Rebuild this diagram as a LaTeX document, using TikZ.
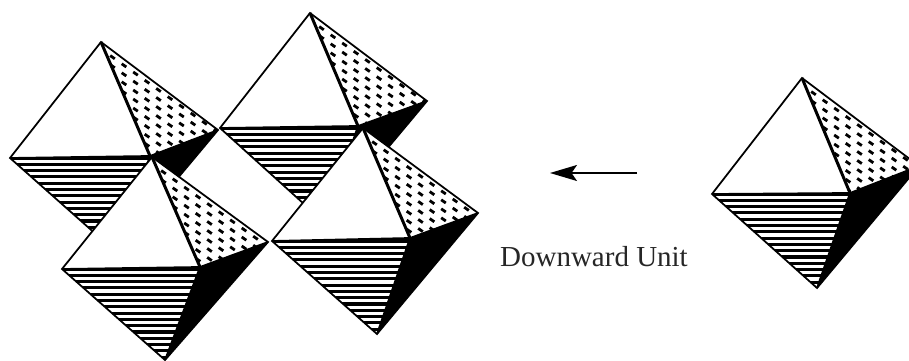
\documentclass[tikz,border=0pt]{standalone}
\usepackage{fontspec}
\setmainfont{Liberation Serif}
\usetikzlibrary{arrows.meta, calc}
\tikzset{
    edgeline/.style={draw=black, line width=1pt, line join=miter},
    heavyline/.style={draw=black, line width=1.7pt},
    stripeline/.style={draw=black, line width=1.75pt},
    dashmark/.style={draw=black, line width=1.6pt},
    unitarrow/.style={-{Stealth[length=5.4mm, width=3.2mm, inset=1.1mm]}, draw=black, line width=1.1pt},
    unitlabel/.style={font=\fontsize{16.5}{20}\selectfont, text=black!85}
}
\newcommand{\octahedron}[6]{
    \coordinate (#1t) at (#2);
    \coordinate (#1l) at (#3);
    \coordinate (#1c) at (#4);
    \coordinate (#1r) at (#5);
    \coordinate (#1b) at (#6);
    \fill[white] (#1t) -- (#1r) -- (#1b) -- (#1l) -- cycle;
    \fill[black] (#1c) -- (#1r) -- (#1b) -- cycle;
    % striped face
    \begin{scope}
        \clip (#1l) -- (#1c) -- (#1b) -- cycle;
        \foreach \k in {0,...,16}
            \draw[stripeline] ($(#1l)+(0,\k*6.3)$) -- ++(160,0);
    \end{scope}
    % dashed face
    \begin{scope}
        \clip (#1t) -- (#1r) -- (#1c) -- cycle;
        \foreach \i in {0,...,12}
            \foreach \j in {-12,...,14}
                \draw[dashmark] ($(#1t)+\i*(11.5,8.2)+\j*(0,9)+(-2.3,-3.6)$) -- ++(4.6,3.2);
    \end{scope}
    \draw[edgeline] (#1l) -- (#1t) -- (#1r) -- (#1b) -- cycle;
    \draw[edgeline] (#1l) -- (#1c) -- (#1r);
    \draw[edgeline] (#1c) -- (#1b);
    \draw[heavyline] (#1t) -- (#1c);
}
\begin{document}
\begin{tikzpicture}[x=0.02cm, y=-0.02cm]
    \useasboundingbox (0,0) rectangle (909,361);
    \clip (0,0) rectangle (909,361);
    \octahedron{one}{101,42}{10,158}{150,156}{218,130}{116,252}
    \octahedron{two}{310,13}{220,128}{358,126}{427,101}{325,223}
    \octahedron{three}{152,157}{62,269}{200,267}{268,242}{165,360}
    \octahedron{four}{363,128}{272,241}{410,238}{478,213}{377,334}
    \octahedron{single}{802,78}{712,194}{850,193}{919,166}{817,288}
    \coordinate (arrowstart) at (637,173);
    \coordinate (arrowend) at (550,173);
    \draw[unitarrow] (arrowstart) -- (arrowend);
    \node[unitlabel] (unitname) at (594,257) {Downward Unit};
\end{tikzpicture}
\end{document}
